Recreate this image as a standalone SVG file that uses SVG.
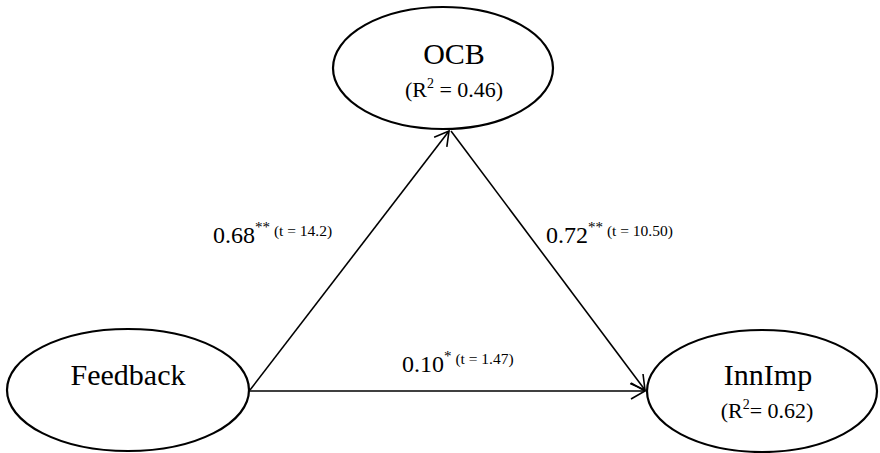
<svg xmlns="http://www.w3.org/2000/svg" width="880" height="453" viewBox="0 0 880 453" font-family="'Liberation Serif', 'DejaVu Serif', serif">
<style>
text{font-family:'Liberation Serif','DejaVu Serif',serif;fill:#000}
.node{fill:#fff;stroke:#000;stroke-width:2.2}
.name{font-size:30px;text-anchor:middle}
.r2{font-size:22px;text-anchor:middle}
.coef{font-size:24px}
.sup{font-size:15px}
.t{font-size:15.5px}
.edge{stroke:#000;stroke-width:1.6;fill:none}
</style>
<defs>
<marker id="arr" markerUnits="userSpaceOnUse" markerWidth="18" markerHeight="20" viewBox="0 0 18 20" refX="16" refY="10" orient="auto">
<path d="M2,2 L16,10 L2,18" fill="none" stroke="#000" stroke-width="1.6"/>
</marker>
</defs>
<g id="connectors">
<line class="edge" x1="250" y1="390" x2="449" y2="131" marker-end="url(#arr)"/>
<line class="edge" x1="451" y1="131" x2="645" y2="390" marker-end="url(#arr)"/>
<line class="edge" x1="250" y1="391" x2="645" y2="391" marker-end="url(#arr)"/>
</g>
<g id="OCB">
<ellipse class="node" cx="443" cy="68" rx="110" ry="61"/>
<text class="name" x="454" y="64">OCB</text>
<text class="r2" x="454" y="97">(R<tspan font-size="14" dy="-9">2</tspan><tspan dy="9"> = 0.46)</tspan></text>
</g>
<g id="Feedback">
<ellipse class="node" cx="128" cy="390" rx="121" ry="61"/>
<text class="name" x="128" y="385">Feedback</text>
</g>
<g id="InnImp">
<ellipse class="node" cx="762" cy="391" rx="115" ry="61"/>
<text class="name" x="768" y="385">InnImp</text>
<text class="r2" x="767" y="418">(R<tspan font-size="14" dy="-9">2</tspan><tspan dy="9">= 0.62)</tspan></text>
</g>
<g id="labels">
<text class="coef" x="213" y="243">0.68<tspan class="sup" dy="-11">**</tspan><tspan class="t" dy="4"> (t = 14.2)</tspan></text>
<text class="coef" x="546" y="243">0.72<tspan class="sup" dy="-11">**</tspan><tspan class="t" dy="4"> (t = 10.50)</tspan></text>
<text class="coef" x="402" y="372">0.10<tspan class="sup" dy="-11">*</tspan><tspan class="t" dy="3"> (t = 1.47)</tspan></text>
</g>
</svg>
